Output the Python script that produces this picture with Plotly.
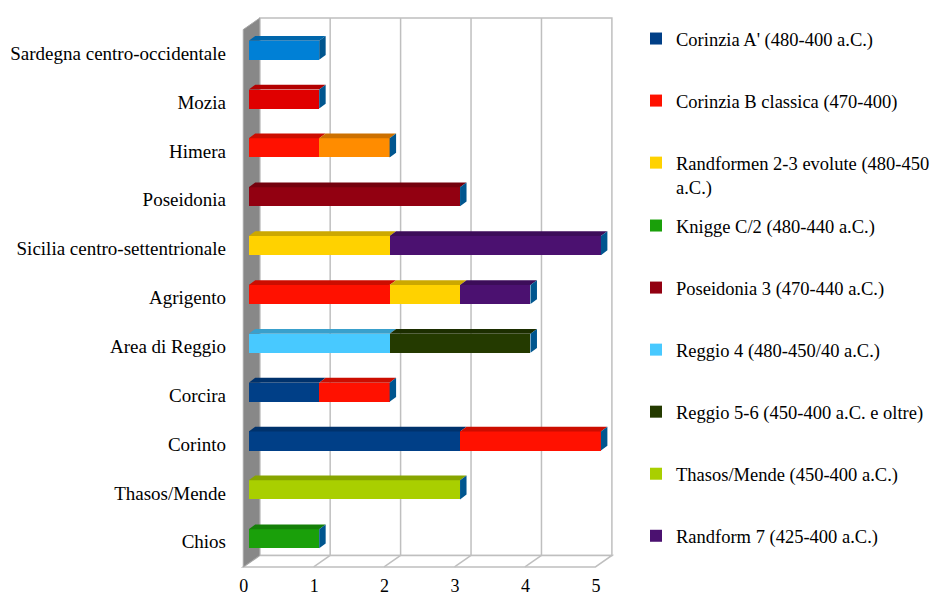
import plotly.graph_objects as go

# ---------------- data ----------------
categories = ["Chios", "Thasos/Mende", "Corinto", "Corcira", "Area di Reggio", "Agrigento",
              "Sicilia centro-settentrionale", "Poseidonia", "Himera", "Mozia",
              "Sardegna centro-occidentale"]

series_names = ["Corinzia A' (480-400 a.C.)",
                "Corinzia B classica (470-400)",
                "Randformen 2-3 evolute (480-450<br>a.C.)",
                "Knigge C/2 (480-440 a.C.)",
                "Poseidonia 3 (470-440 a.C.)",
                "Reggio 4 (480-450/40 a.C.)",
                "Reggio 5-6 (450-400 a.C. e oltre)",
                "Thasos/Mende (450-400 a.C.)",
                "Randform 7 (425-400 a.C.)",
                "Sardegna", "Mozia", "Himera"]

corinzia_a    = [0, 0, 3, 1, 0, 0, 0, 0, 0, 0, 0]
corinzia_b    = [0, 0, 2, 1, 0, 2, 0, 0, 1, 0, 0]
randformen_23 = [0, 0, 0, 0, 0, 1, 2, 0, 0, 0, 0]
knigge_c2     = [1, 0, 0, 0, 0, 0, 0, 0, 0, 0, 0]
poseidonia_3  = [0, 0, 0, 0, 0, 0, 0, 3, 0, 0, 0]
reggio_4      = [0, 0, 0, 0, 2, 0, 0, 0, 0, 0, 0]
reggio_56     = [0, 0, 0, 0, 2, 0, 0, 0, 0, 0, 0]
thasos_mende  = [0, 3, 0, 0, 0, 0, 0, 0, 0, 0, 0]
randform_7    = [0, 0, 0, 0, 0, 1, 3, 0, 0, 0, 0]
sardegna      = [0, 0, 0, 0, 0, 0, 0, 0, 0, 0, 1]
mozia         = [0, 0, 0, 0, 0, 0, 0, 0, 0, 1, 0]
himera_extra  = [0, 0, 0, 0, 0, 0, 0, 0, 1, 0, 0]

x_ticks = [0, 1, 2, 3, 4, 5]

# ---------------- style ----------------
series_values = [corinzia_a, corinzia_b, randformen_23, knigge_c2, poseidonia_3, reggio_4,
                 reggio_56, thasos_mende, randform_7, sardegna, mozia, himera_extra]
colors = ["#003F87", "#FF1100", "#FFD200", "#1AA00A", "#920011", "#48C9FF",
          "#243A00", "#A9CF00", "#4B1170", "#0080D6", "#E00000", "#FF8C00"]
in_legend = [True] * 9 + [False] * 3
legend_ref = ["legend"] * 3 + ["legend2"] * 6 + ["legend"] * 3
END_CAP = "#00568F"
FONT = "Liberation Serif"
CAT_SIZE, LEG_SIZE, NUM_SIZE = 19, 18.5, 18

BAR_W = 0.39
TOP_DX, TOP_DY = 0.092, 0.098
FX, FY = -0.078, -0.078
BX, BY = 0.156, 0.157
LO, HI = -0.5, len(categories) - 0.5
GRID = "#BFBFBF"

# page body adds an offset; figure pixels = reference pixels - offset
OFF_X, OFF_Y = 8, 5
W, H = 930, 588
ML, MT = 241 - OFF_X, 13 - OFF_Y
PLOT_W, PLOT_H = 374, 553
MR, MB = W - ML - PLOT_W, H - MT - PLOT_H


def darker(hex_color, f=0.8):
    h = hex_color.lstrip("#")
    r, g, b = (int(h[i:i + 2], 16) for i in (0, 2, 4))
    return "#%02X%02X%02X" % (int(r * f), int(g * f), int(b * f))


ypos = list(range(len(categories)))
fig = go.Figure()

for name, vals, col, show, lg in zip(series_names, series_values, colors, in_legend, legend_ref):
    fig.add_trace(go.Bar(
        x=vals, y=ypos, orientation="h", width=BAR_W, name=name,
        marker=dict(color=col, line=dict(width=0)),
        showlegend=show, legend=lg, legendgroup=name, hoverinfo="skip"))

base = [0.0] * len(categories)
last_end = [0.0] * len(categories)
for vals, col in zip(series_values, colors):
    xs, ys = [], []
    for k, v in enumerate(vals):
        if v <= 0:
            continue
        x0, x1 = base[k], base[k] + v
        yt = k + BAR_W / 2
        xs += [x0, x1, x1 + TOP_DX, x0 + TOP_DX, x0, None]
        ys += [yt, yt, yt + TOP_DY, yt + TOP_DY, yt, None]
        base[k] = x1
        last_end[k] = x1
    if xs:
        fig.add_trace(go.Scatter(x=xs, y=ys, mode="lines", fill="toself",
                                 fillcolor=darker(col), line=dict(width=0, color=darker(col)),
                                 showlegend=False, hoverinfo="skip"))
xs, ys = [], []
for k, xe in enumerate(last_end):
    if xe <= 0:
        continue
    yb, yt = k - BAR_W / 2, k + BAR_W / 2
    xs += [xe, xe, xe + TOP_DX, xe + TOP_DX, xe, None]
    ys += [yb, yt, yt + TOP_DY, yb + TOP_DY, yb, None]
fig.add_trace(go.Scatter(x=xs, y=ys, mode="lines", fill="toself", fillcolor=END_CAP,
                         line=dict(width=0, color=END_CAP), showlegend=False, hoverinfo="skip"))

xmax = x_ticks[-1]
shapes = []
shapes.append(dict(type="path", xref="x", yref="y", layer="below",
                   path=f"M{BX},{LO+BY} L{xmax+BX},{LO+BY} L{xmax+BX},{HI+BY} L{BX},{HI+BY} Z",
                   fillcolor="white", line=dict(color=GRID, width=1.5)))
for t in x_ticks[1:-1]:
    shapes.append(dict(type="line", xref="x", yref="y", layer="below",
                       x0=t + BX, x1=t + BX, y0=LO + BY, y1=HI + BY,
                       line=dict(color=GRID, width=1.5)))
shapes.append(dict(type="path", xref="x", yref="y", layer="below",
                   path=f"M{FX},{LO+FY} L{xmax+FX},{LO+FY} L{xmax+BX},{LO+BY} L{BX},{LO+BY} Z",
                   fillcolor="white", line=dict(color=GRID, width=1.5)))
for t in x_ticks[1:-1]:
    shapes.append(dict(type="line", xref="x", yref="y", layer="below",
                       x0=t + FX, x1=t + BX, y0=LO + FY, y1=LO + BY,
                       line=dict(color=GRID, width=1.5)))
shapes.append(dict(type="path", xref="x", yref="y", layer="below",
                   path=f"M{FX},{LO+FY} L{FX},{HI+FY} L{BX},{HI+BY} L{BX},{LO+BY} Z",
                   fillcolor="#888888", line=dict(color="#A6A6A6", width=1)))


def px_to_paper_x(px_ref):
    return (px_ref - OFF_X - ML) / PLOT_W


def px_to_paper_y(py_ref):
    return (H - MB - (py_ref - OFF_Y)) / PLOT_H


leg_font = dict(family=FONT, size=LEG_SIZE, color="black")
fig.update_layout(
    template="none",
    width=W, height=H,
    margin=dict(l=ML, r=MR, t=MT, b=MB, autoexpand=False),
    barmode="stack",
    paper_bgcolor="white", plot_bgcolor="rgba(0,0,0,0)",
    font=dict(family=FONT, size=CAT_SIZE, color="black"),
    shapes=shapes,
    xaxis=dict(range=[-0.11, 5.2], tickvals=x_ticks, showgrid=False, zeroline=False,
               showline=False, ticks="", ticklabelshift=-5, ticklabelstandoff=4,
               tickfont=dict(family=FONT, size=NUM_SIZE, color="black"),
               automargin=False, fixedrange=True),
    yaxis=dict(range=[-0.62, 10.7], tickvals=ypos, ticktext=categories, showgrid=False,
               zeroline=False, showline=False, ticks="", ticklabelshift=3,
               ticklabelstandoff=14, tickfont=dict(family=FONT, size=CAT_SIZE, color="black"),
               automargin=False, fixedrange=True),
    legend=dict(x=px_to_paper_x(636), y=px_to_paper_y(17), xanchor="left", yanchor="top",
                traceorder="grouped", tracegroupgap=35, valign="top",
                font=leg_font, bgcolor="rgba(0,0,0,0)"),
    legend2=dict(x=px_to_paper_x(636), y=px_to_paper_y(204), xanchor="left", yanchor="top",
                 traceorder="grouped", tracegroupgap=35, valign="top",
                 font=leg_font, bgcolor="rgba(0,0,0,0)"),
    showlegend=True,
)

fig.write_html("out.html")
